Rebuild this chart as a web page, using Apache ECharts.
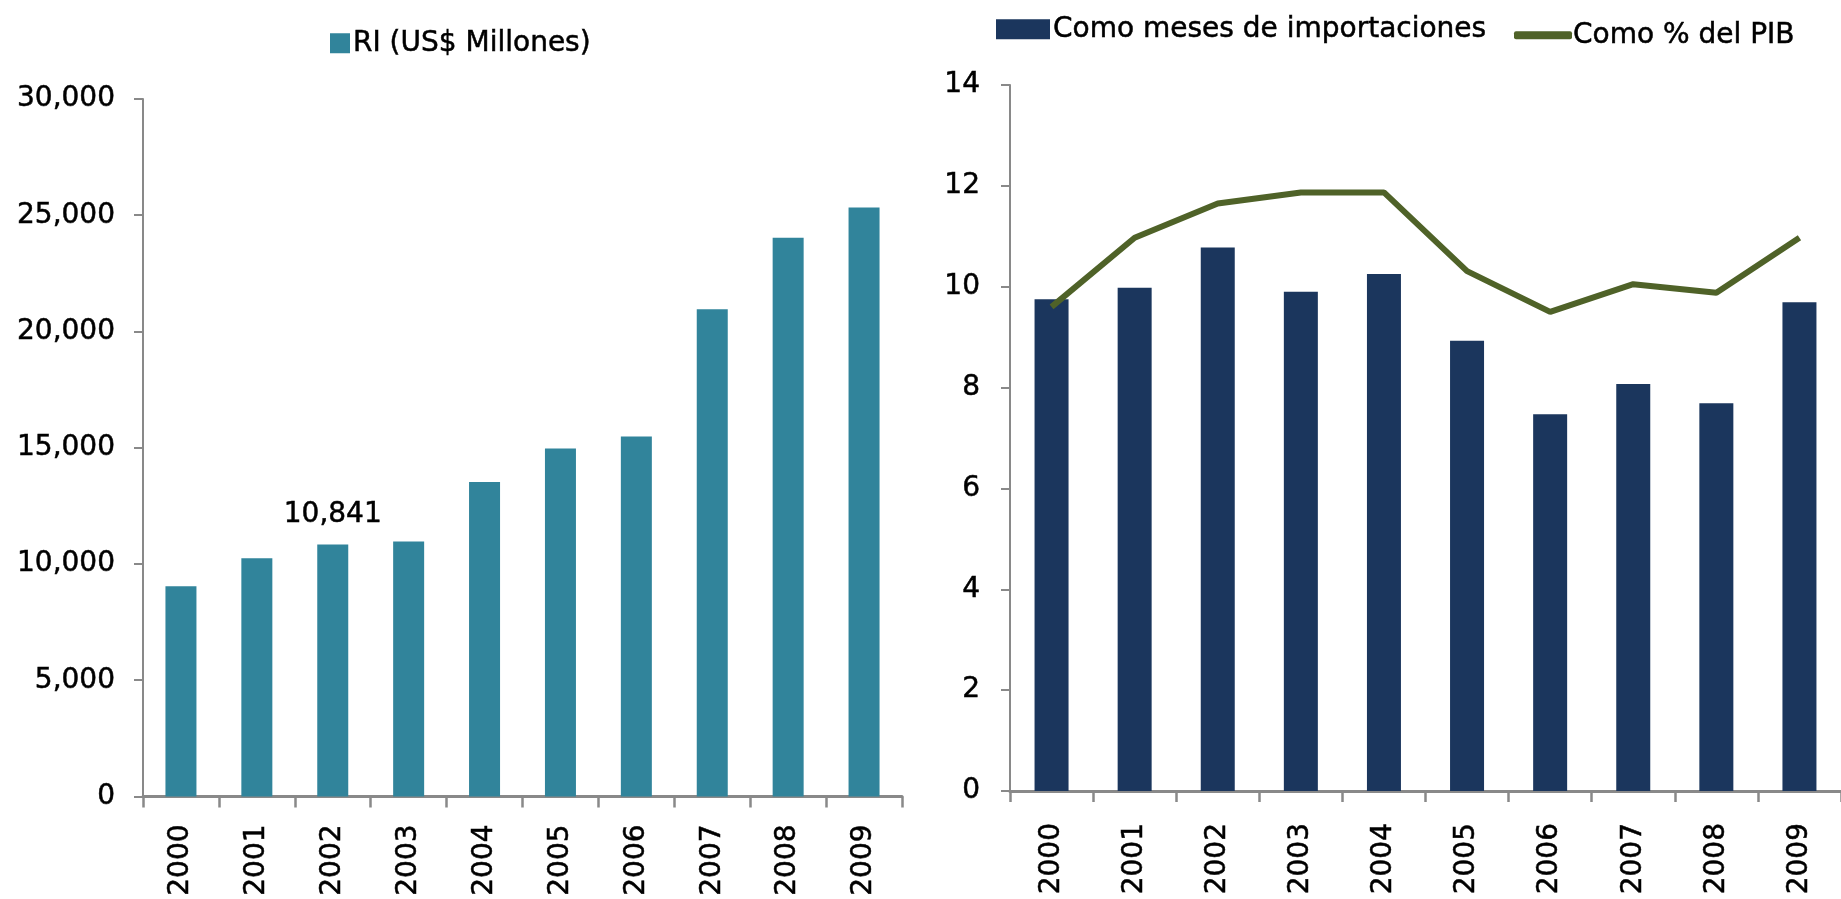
<!DOCTYPE html>
<html>
<head>
<meta charset="utf-8">
<script src="https://cdn.jsdelivr.net/npm/echarts@6/dist/echarts.min.js"></script>
<style>
html,body{margin:0;padding:0;background:#fff;}
#c{width:1841px;height:899px;}
</style>
</head>
<body>
<div id="c"></div>
<script>
const years = ['2000','2001','2002','2003','2004','2005','2006','2007','2008','2009'];
const riValues = [9040, 10245, 10841, 10970, 13530, 14970, 15480, 20960, 24030, 25335];
const mesesValues = [9.75, 9.98, 10.78, 9.90, 10.25, 8.93, 7.47, 8.07, 7.69, 9.69];
const pibValues = [9.6, 10.97, 11.65, 11.87, 11.87, 10.31, 9.5, 10.05, 9.88, 10.97];
const labeledYear = '2002';
const leftTicks = {min: 0, max: 30000, interval: 5000};
const rightTicks = {min: 0, max: 14, interval: 2};
const names = ['RI (US$ Millones)', 'Como meses de importaciones', 'Como % del PIB'];

const FONT = 'DejaVu Sans';
const axisGray = '#898989';
const txt = {fontFamily: FONT, color: '#000', textBorderColor: '#000', textBorderWidth: 0.5};
const chart = echarts.init(document.getElementById('c'), null, {renderer: 'canvas'});

const riData = riValues.map((v, i) => years[i] === labeledYear
  ? {value: v, label: Object.assign({show: true, position: 'top', distance: 16, fontSize: 28,
      formatter: p => Number(p.value).toLocaleString('en-US')}, txt)}
  : v);

chart.setOption({
  animation: false,
  backgroundColor: '#fff',
  textStyle: {fontFamily: FONT, color: '#000'},
  legend: [
    {data: [{name: names[0], icon: 'rect'}], left: 330, top: 29, padding: 0, itemWidth: 20, itemHeight: 20,
     textStyle: Object.assign({fontSize: 28, padding: [0,0,0,-2]}, txt)},
    {data: [{name: names[1], icon: 'rect'}], left: 996, top: 15, padding: 0, itemWidth: 54, itemHeight: 20,
     textStyle: Object.assign({fontSize: 28, padding: [0,0,0,-2]}, txt)},
    {data: [{name: names[2], icon: 'roundRect'}], left: 1514, top: 21, padding: 0, itemWidth: 58, itemHeight: 8,
     textStyle: Object.assign({fontSize: 28, padding: [0,0,0,-4]}, txt)}
  ],
  grid: [
    {left: 143, top: 99, width: 759, height: 698, containLabel: false},
    {left: 1010, top: 85, width: 836, height: 706, containLabel: false}
  ],
  xAxis: [
    {type: 'category', gridIndex: 0, data: years,
     axisLine: {lineStyle: {color: axisGray, width: 3}},
     axisTick: {show: true, length: 11, lineStyle: {color: axisGray, width: 2.5}},
     axisLabel: Object.assign({rotate: 90, margin: 28, fontSize: 28}, txt)},
    {type: 'category', gridIndex: 1, data: years,
     axisLine: {lineStyle: {color: axisGray, width: 3}},
     axisTick: {show: true, length: 11, lineStyle: {color: axisGray, width: 2.5}},
     axisLabel: Object.assign({rotate: 90, margin: 32, fontSize: 28}, txt)}
  ],
  yAxis: [
    {type: 'value', gridIndex: 0, min: leftTicks.min, max: leftTicks.max, interval: leftTicks.interval,
     axisLine: {show: true, lineStyle: {color: axisGray, width: 2}},
     axisTick: {show: true, length: 9, lineStyle: {color: axisGray, width: 2}},
     splitLine: {show: false},
     axisLabel: Object.assign({margin: 28, fontSize: 28,
       formatter: v => Number(v).toLocaleString('en-US')}, txt)},
    {type: 'value', gridIndex: 1, min: rightTicks.min, max: rightTicks.max, interval: rightTicks.interval,
     axisLine: {show: true, lineStyle: {color: axisGray, width: 2}},
     axisTick: {show: true, length: 9, lineStyle: {color: axisGray, width: 2}},
     splitLine: {show: false},
     axisLabel: Object.assign({margin: 30, fontSize: 28}, txt)}
  ],
  series: [
    {name: names[0], type: 'bar', xAxisIndex: 0, yAxisIndex: 0, data: riData, barWidth: 31,
     itemStyle: {color: '#31849b'}},
    {name: names[1], type: 'bar', xAxisIndex: 1, yAxisIndex: 1, data: mesesValues, barWidth: 34,
     itemStyle: {color: '#1b365d'}},
    {name: names[2], type: 'line', xAxisIndex: 1, yAxisIndex: 1, data: pibValues, symbol: 'none',
     lineStyle: {color: '#4f6228', width: 6}, itemStyle: {color: '#4f6228'}}
  ]
});
</script>
</body>
</html>
